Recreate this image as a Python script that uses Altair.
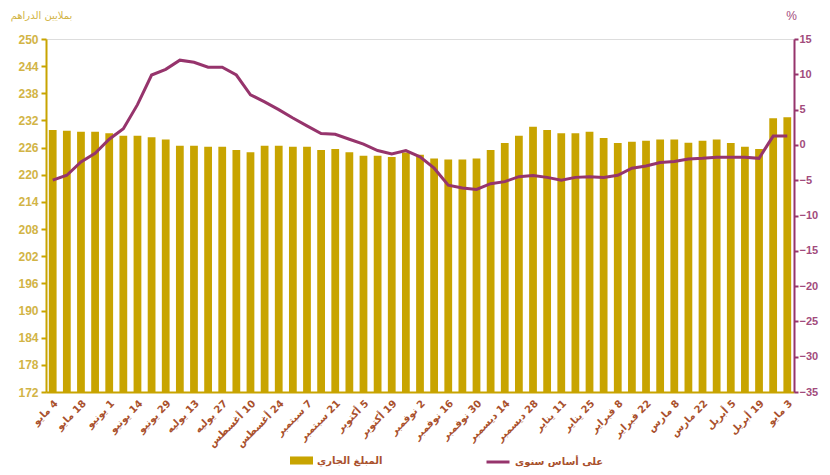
import json
import altair as alt
import pandas as pd

# ---- data ----
label_days = [4, 18, 1, 14, 29, 13, 27, 10, 24, 7, 21, 5, 19, 2, 16, 30, 14, 28, 11, 25, 8, 22, 8, 22, 5, 19, 3]
label_months = ["مايو", "مايو", "يونيو", "يونيو", "يونيو", "يوليه", "يوليه", "أغسطس", "أغسطس",
                "سبتمبر", "سبتمبر", "أكتوبر", "أكتوبر", "نوفمبر", "نوفمبر", "نوفمبر", "ديسمبر",
                "ديسمبر", "يناير", "يناير", "فبراير", "فبراير", "مارس", "مارس", "أبريل", "أبريل", "مايو"]

amount = [229.9, 229.7, 229.5, 229.5, 229.2, 228.6, 228.6, 228.3, 227.8, 226.4,
          226.4, 226.2, 226.2, 225.5, 225.0, 226.4, 226.4, 226.2, 226.2, 225.5,
          225.7, 225.0, 224.2, 224.2, 223.9, 224.9, 224.4, 223.6, 223.4, 223.4,
          223.6, 225.5, 227.0, 228.6, 230.6, 229.9, 229.2, 229.2, 229.5, 228.1,
          227.0, 227.3, 227.5, 227.8, 227.8, 227.1, 227.5, 227.8, 227.0, 226.2,
          225.7, 232.5, 232.7]

yoy = [-5.0, -4.3, -2.4, -1.2, 0.8, 2.3, 5.7, 9.9, 10.7, 12.0,
       11.7, 11.0, 11.0, 9.9, 7.1, 6.1, 5.0, 3.8, 2.7, 1.6,
       1.5, 0.8, 0.1, -0.8, -1.3, -0.8, -1.7, -3.3, -5.7, -6.1,
       -6.3, -5.5, -5.2, -4.5, -4.35, -4.6, -5.0, -4.6, -4.5, -4.6,
       -4.3, -3.3, -3.0, -2.5, -2.35, -2.0, -1.9, -1.75, -1.75, -1.75,
       -1.9, 1.25, 1.25]

bar_name = "المبلغ الجاري"
line_name = "على أساس سنوي"
left_title = "بملايين الدراهم"
right_title = "%"

left_ticks = [172, 178, 184, 190, 196, 202, 208, 214, 220, 226, 232, 238, 244, 250]
right_ticks = [-35, -30, -25, -20, -15, -10, -5, 0, 5, 10, 15]

# ---- build ----
n = len(amount)
full_labels = [""] * n
for k, (d, m) in enumerate(zip(label_days, label_months)):
    # left-to-right mark keeps the day number at the right end (as in an RTL layout)
    full_labels[2 * k] = f"{m}\u200e {d}"

df = pd.DataFrame({
    "i": list(range(n)),
    "amount": amount,
    "yoy": yoy,
    "s1": [bar_name] * n,
    "s2": [line_name] * n,
})

GOLD = "#C8A400"
GOLD_TXT = "#D2B446"
PURPLE = "#96346C"
PURPLE_TXT = "#A24B7C"
RUST = "#A9502C"

label_expr = "[" + ",".join(json.dumps(s, ensure_ascii=False) for s in full_labels) + "][datum.value]"

x = alt.X("i:O",
          scale=alt.Scale(paddingInner=0.45, paddingOuter=0.2),
          axis=alt.Axis(title=None, labelExpr=label_expr, labelAngle=-45,
                        labelFont="DejaVu Sans", labelFontWeight="bold", labelFontSize=10,
                        labelColor=RUST, ticks=False, domainColor=GOLD, domainWidth=2,
                        labelPadding=6, labelOverlap=False))

bars = alt.Chart(df).mark_bar(color=GOLD, clip=True).encode(
    x=x,
    y=alt.Y("amount:Q",
            scale=alt.Scale(domain=[172, 250], nice=False, zero=False),
            axis=alt.Axis(values=left_ticks, title=left_title, titleAngle=0,
                          titleX=-5, titleY=-24, titleAlign="center", titleBaseline="middle",
                          titleColor=GOLD_TXT, titleFont="DejaVu Sans", titleFontSize=10,
                          titleFontWeight="normal",
                          labelColor=GOLD_TXT, labelFont="Liberation Sans", labelFontWeight="bold",
                          labelFontSize=12, tickColor=GOLD, tickSize=5, tickWidth=2,
                          domainColor=GOLD, domainWidth=2, grid=False, labelPadding=3)),
    color=alt.Color("s1:N", scale=alt.Scale(domain=[bar_name], range=[GOLD]),
                    legend=alt.Legend(title=None, orient="none", legendX=244, legendY=410,
                                      symbolType="M-1,-0.35L1,-0.35L1,0.35L-1,0.35Z",
                                      symbolSize=529, symbolStrokeWidth=0,
                                      labelFont="DejaVu Sans", labelFontWeight="bold",
                                      labelFontSize=10, labelColor=RUST, labelOffset=4)),
)

line = alt.Chart(df).mark_line(strokeWidth=3, color=PURPLE).encode(
    x=x,
    y=alt.Y("yoy:Q",
            scale=alt.Scale(domain=[-35, 15], nice=False, zero=False),
            axis=alt.Axis(values=right_ticks, orient="right", title=right_title, titleAngle=0,
                          titleX=-3, titleY=-24, titleAlign="center", titleBaseline="middle",
                          titleColor=PURPLE_TXT, titleFont="Liberation Sans", titleFontSize=12,
                          titleFontWeight="normal",
                          labelColor=PURPLE_TXT, labelFont="Liberation Sans", labelFontWeight="bold",
                          labelFontSize=11, tickColor=PURPLE, tickSize=4, tickWidth=2,
                          domainColor=PURPLE, domainWidth=2, grid=False, labelPadding=1)),
    stroke=alt.Stroke("s2:N", scale=alt.Scale(domain=[line_name], range=[PURPLE]),
                      legend=alt.Legend(title=None, orient="none", legendX=439, legendY=410,
                                        symbolType="stroke", symbolSize=529, symbolStrokeWidth=3,
                                        labelFont="DejaVu Sans", labelFontWeight="bold",
                                        labelFontSize=10, labelColor=RUST, labelOffset=4)),
)

chart = alt.layer(bars, line).resolve_scale(
    y="independent", color="independent", stroke="independent"
).properties(
    width=748, height=353,
    autosize=alt.AutoSizeParams(type="none"),
    padding={"left": 38, "top": 31, "right": 28, "bottom": 75},
).configure_view(stroke=None).configure(background="white")

chart.save("out.html", embed_options={"renderer": "svg", "actions": False})
